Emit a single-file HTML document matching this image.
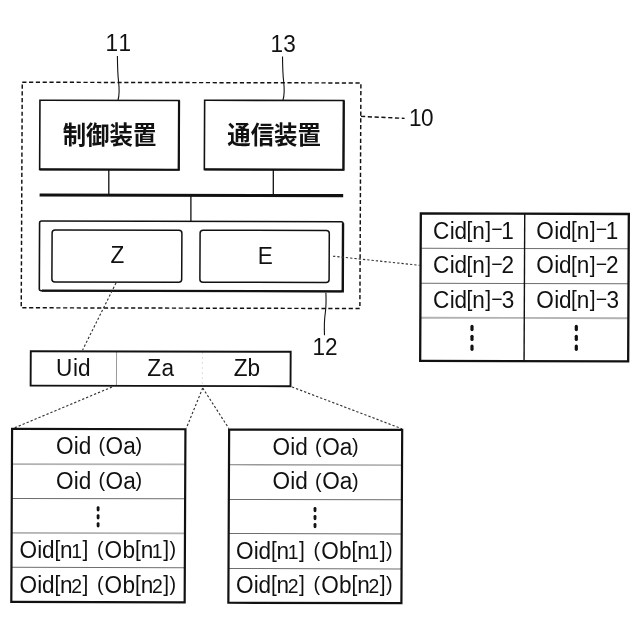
<!DOCTYPE html>
<html lang="ja">
<head>
<meta charset="utf-8">
<title>Figure: device 10 block diagram</title>
<style>
html,body{margin:0;padding:0;background:#fff;}
body{width:640px;height:640px;overflow:hidden;}
svg{display:block;will-change:transform;filter:grayscale(1);}
text{font-family:"Liberation Sans",sans-serif;fill:#111;}
.ln{fill:none;stroke:#111;}
.dash{fill:none;stroke:#111;stroke-width:1.45;stroke-dasharray:4.2 2.6;stroke-linecap:butt;}
.dot{fill:none;stroke:#333;stroke-width:1.15;stroke-dasharray:2.3 2;}
.row{fill:none;stroke:#999;stroke-width:1;}
</style>
</head>
<body>
<svg width="640" height="640" viewBox="0 0 640 640" role="img" aria-label="Block diagram of device 10">
<rect width="640" height="640" fill="#fff"/>
<g transform="matrix(1 0.0022 -0.0045 1 0.879 -0.420)"><rect class="dash" x="21.75" y="82.6" width="338.65" height="225.55"/></g>
<path class="dash" stroke-width="1.25" stroke-dasharray="3.2 1.9" d="M361 116.4 L404.6 118.4"/>
<text font-size="22.6" transform="matrix(1 0 0 1.035 0 -4.417)" x="408.88 421.12" y="126.20 126.20">10</text>
<path class="ln" stroke-width="1.1" d="M117.4 56 C117.5 68 117.7 74 118.6 82 C119.3 88 119.9 93.5 118 100"/>
<text font-size="22.6" transform="matrix(1 0 0 1.035 0 -1.792)" x="105.48 118.38" y="51.20 51.20">11</text>
<path class="ln" stroke-width="1.1" d="M282.5 56.4 C282.6 68 282.8 74 283.7 82 C284.4 88 285 93.5 282.9 100.3"/>
<text font-size="22.6" transform="matrix(1 0 0 1.035 0 -1.823)" x="270.48 283.24" y="52.10 52.10">13</text>
<g transform="matrix(1 0.0022 -0.0045 1 0.607 -0.241)"><rect class="ln" stroke-width="1.6" x="39.8" y="100.4" width="139.1" height="69.2"/><path class="ln" stroke-width="2.2" d="M178.9 100.4 V169.6 H39.8"/></g>
<g transform="matrix(1 0.0022 -0.0045 1 0.607 -0.603)"><rect class="ln" stroke-width="1.6" x="204.5" y="100.4" width="139.1" height="69.2"/><path class="ln" stroke-width="2.2" d="M343.6 100.4 V169.6 H204.5"/></g>
<text font-size="23.4" font-weight="bold" style="font-family:'Liberation Sans','Noto Sans CJK JP',sans-serif" transform="matrix(1 0 0 1.08 0 -11.52)" x="62.7 86.1 109.5 132.9" y="144 144 144 144">制御装置</text>
<text font-size="23.4" font-weight="bold" style="font-family:'Liberation Sans','Noto Sans CJK JP',sans-serif" transform="matrix(1 0 0 1.08 0 -11.504)" x="227.3 250.7 274.1 297.5" y="143.8 143.8 143.8 143.8">通信装置</text>
<path class="ln" stroke-width="1.3" d="M108.8 169.6 V195 M273.3 169.6 V195 M190.9 196 V221"/>
<g transform="matrix(1 0.0022 -0.0045 1 0.879 -0.421)"><path class="ln" stroke-width="3.1" d="M39.6 195.3 H343.2"/></g>
<g transform="matrix(1 0.0022 -0.0045 1 1.153 -0.421)"><rect class="ln" stroke-width="1.6" x="39.45" y="221.4" width="303.5" height="69.7" rx="2"/><path class="ln" stroke-width="2.4" d="M342.9 223 V291.0 H42"/><rect class="ln" stroke-width="1.5" x="52" y="230.2" width="129.8" height="52" rx="3"/><rect class="ln" stroke-width="1.5" x="200" y="230.2" width="129.2" height="52" rx="3"/></g>
<text font-size="22.6" transform="matrix(1 0 0 1.035 0 -9.208)" x="110.58" y="263.10">Z</text>
<text font-size="22.6" transform="matrix(1 0 0 1.035 0 -9.233)" x="257.75" y="263.80">E</text>
<path class="ln" stroke-width="1.1" d="M325.9 292.8 C326.3 302 326.2 306 325.4 312 C324.5 318 324 324 324.5 335.3"/>
<text font-size="22.6" transform="matrix(1 0 0 1.035 0 -12.432)" x="312.38 325.06" y="355.20 355.20">12</text>
<path class="dot" d="M116 283 L82.6 350"/>
<path class="dot" d="M333 256.2 L419.5 265.3"/>
<g transform="matrix(1 0.0022 -0.0045 1 1.293 -1.154)"><path d="M421 248.6 H628" fill="none" stroke="#6e6e6e" stroke-width="1.0"/><path d="M421 283.6 H628" fill="none" stroke="#6e6e6e" stroke-width="1.0"/><path d="M421 318.0 H628" fill="none" stroke="#b2b2b2" stroke-width="1.8"/><path class="ln" stroke-width="1.4" d="M524.4 214 V361"/><rect class="ln" stroke-width="2.3" x="420.5" y="213.75" width="208.0" height="147.35"/></g>
<text font-size="22.6" transform="matrix(1 0 0 1.035 0 -8.354)" x="432.95 449.74 454.50 466.45 472.25 485.29 491.19 501.28" y="238.70 238.70 238.70 236.90 238.70 236.90 236.40 238.70">Cid<tspan font-size="21.0">[</tspan>n<tspan font-size="21.0">]</tspan><tspan font-size="19.5">−</tspan>1</text>
<text font-size="22.6" transform="matrix(1 0 0 1.035 0 -8.354)" x="536.33 554.29 559.05 571.00 576.80 589.84 595.74 605.83" y="238.70 238.70 238.70 236.90 238.70 236.90 236.40 238.70">Oid<tspan font-size="21.0">[</tspan>n<tspan font-size="21.0">]</tspan><tspan font-size="19.5">−</tspan>1</text>
<text font-size="22.6" transform="matrix(1 0 0 1.035 0 -9.572)" x="432.95 449.74 454.50 466.45 472.25 485.29 491.19 501.56" y="273.50 273.50 273.50 271.70 273.50 271.70 271.20 273.50">Cid<tspan font-size="21.0">[</tspan>n<tspan font-size="21.0">]</tspan><tspan font-size="19.5">−</tspan>2</text>
<text font-size="22.6" transform="matrix(1 0 0 1.035 0 -9.572)" x="536.33 554.29 559.05 571.00 576.80 589.84 595.74 606.11" y="273.50 273.50 273.50 271.70 273.50 271.70 271.20 273.50">Oid<tspan font-size="21.0">[</tspan>n<tspan font-size="21.0">]</tspan><tspan font-size="19.5">−</tspan>2</text>
<text font-size="22.6" transform="matrix(1 0 0 1.035 0 -10.787)" x="432.95 449.74 454.50 466.45 472.25 485.29 491.19 501.84" y="308.20 308.20 308.20 306.40 308.20 306.40 305.90 308.20">Cid<tspan font-size="21.0">[</tspan>n<tspan font-size="21.0">]</tspan><tspan font-size="19.5">−</tspan>3</text>
<text font-size="22.6" transform="matrix(1 0 0 1.035 0 -10.787)" x="536.33 554.29 559.05 571.00 576.80 589.84 595.74 606.39" y="308.20 308.20 308.20 306.40 308.20 306.40 305.90 308.20">Oid<tspan font-size="21.0">[</tspan>n<tspan font-size="21.0">]</tspan><tspan font-size="19.5">−</tspan>3</text>
<g fill="#111"><rect x="470.40" y="324.80" width="3.2" height="6.4" rx="1.60"/><rect x="470.40" y="334.65" width="3.2" height="6.4" rx="1.60"/><rect x="470.40" y="344.50" width="3.2" height="6.4" rx="1.60"/><rect x="574.70" y="324.80" width="3.2" height="6.4" rx="1.60"/><rect x="574.70" y="334.65" width="3.2" height="6.4" rx="1.60"/><rect x="574.70" y="344.50" width="3.2" height="6.4" rx="1.60"/></g>
<g transform="matrix(1 0.0022 -0.0045 1 1.659 -0.353)"><path class="row" d="M116.5 352 V385"/><path d="M202.4 352 V385" fill="none" stroke="#ddd" stroke-width="1" stroke-dasharray="2 3"/><rect class="ln" stroke-width="1.9" x="30.7" y="351.5" width="259.9" height="34.4"/></g>
<text font-size="22.6" transform="matrix(1 0 0 1.035 0 -13.153)" x="56.06 72.99 77.95" y="375.80 375.80 375.80">Uid</text>
<text font-size="22.6" transform="matrix(1 0 0 1.035 0 -13.153)" x="147.28 161.44" y="375.80 375.80">Za</text>
<text font-size="22.6" transform="matrix(1 0 0 1.035 0 -13.153)" x="233.68 247.54" y="375.80 375.80">Zb</text>
<path class="dot" d="M112 387 L13 428.5"/>
<path class="dot" d="M202.7 388 L186.4 428 M202.7 388 L228.8 428.4"/>
<path class="dot" d="M292 387 L402 428.8"/>
<g transform="matrix(1 0.0022 -0.0045 1 2.320 -0.216)"><path d="M11.7 464.25 H185.05" fill="none" stroke="#b2b2b2" stroke-width="1.8"/><path d="M11.7 498.6 H185.05" fill="none" stroke="#6e6e6e" stroke-width="1.0"/><path d="M11.7 533.1 H185.05" fill="none" stroke="#b2b2b2" stroke-width="1.8"/><path d="M11.7 567.5 H185.05" fill="none" stroke="#6e6e6e" stroke-width="1.0"/><rect class="ln" stroke-width="2.2" x="11.7" y="429.05" width="173.35" height="173.10"/></g>
<text font-size="22.6" transform="matrix(1 0 0 1.035 0 -15.900)" x="55.93 73.79 78.75 90.00 98.47 105.53 123.24 135.48" y="454.30 454.30 454.30 454.30 452.50 454.30 454.30 452.50">Oid <tspan font-size="19.8">(</tspan>Oa<tspan font-size="19.8">)</tspan></text>
<text font-size="22.6" transform="matrix(1 0 0 1.035 0 -17.108)" x="55.93 73.79 78.75 90.00 98.47 105.53 123.24 135.48" y="488.80 488.80 488.80 488.80 487.00 488.80 488.80 487.00">Oid <tspan font-size="19.8">(</tspan>Oa<tspan font-size="19.8">)</tspan></text>
<g fill="#111"><rect x="96.70" y="506.20" width="2.8" height="5.3" rx="1.40"/><rect x="96.70" y="514.20" width="2.8" height="5.3" rx="1.40"/><rect x="96.70" y="522.20" width="2.8" height="5.3" rx="1.40"/></g>
<text font-size="22.6" transform="matrix(1 0 0 1.035 0 -19.537)" x="19.53 37.19 41.95 54.40 60.10 71.22 82.59 88.60 96.97 104.63 122.54 134.90 140.80 151.82 163.24 169.58" y="558.20 558.20 558.20 556.40 558.20 558.20 556.40 558.20 556.40 558.20 558.20 556.40 558.20 558.20 556.40 556.40">Oid<tspan font-size="21.0">[</tspan>n<tspan font-size="19.4">1</tspan><tspan font-size="21.0">]</tspan> <tspan font-size="19.8">(</tspan>Ob<tspan font-size="21.0">[</tspan>n<tspan font-size="19.4">1</tspan><tspan font-size="21.0">]</tspan><tspan font-size="19.8">)</tspan></text>
<text font-size="22.6" transform="matrix(1 0 0 1.035 0 -20.744)" x="19.53 37.19 41.95 54.40 60.10 71.32 82.59 88.60 96.97 104.63 122.54 134.90 140.80 151.92 163.24 169.58" y="592.70 592.70 592.70 590.90 592.70 592.70 590.90 592.70 590.90 592.70 592.70 590.90 592.70 592.70 590.90 590.90">Oid<tspan font-size="21.0">[</tspan>n<tspan font-size="19.4">2</tspan><tspan font-size="21.0">]</tspan> <tspan font-size="19.8">(</tspan>Ob<tspan font-size="21.0">[</tspan>n<tspan font-size="19.4">2</tspan><tspan font-size="21.0">]</tspan><tspan font-size="19.8">)</tspan></text>
<g transform="matrix(1 0.0022 -0.0045 1 2.324 -0.694)"><path d="M228.75 464.9 H401.8" fill="none" stroke="#999" stroke-width="1.3"/><path d="M228.75 499.6 H401.8" fill="none" stroke="#6e6e6e" stroke-width="1.0"/><path d="M228.75 533.7 H401.8" fill="none" stroke="#6e6e6e" stroke-width="1.0"/><path d="M228.75 568.7 H401.8" fill="none" stroke="#6e6e6e" stroke-width="1.0"/><rect class="ln" stroke-width="2.2" x="228.75" y="429.75" width="173.05" height="173.20"/></g>
<text font-size="22.6" transform="matrix(1 0 0 1.035 0 -15.914)" x="272.53 290.39 295.35 306.60 315.07 322.13 339.84 352.08" y="454.70 454.70 454.70 454.70 452.90 454.70 454.70 452.90">Oid <tspan font-size="19.8">(</tspan>Oa<tspan font-size="19.8">)</tspan></text>
<text font-size="22.6" transform="matrix(1 0 0 1.035 0 -17.132)" x="272.53 290.39 295.35 306.60 315.07 322.13 339.84 352.08" y="489.50 489.50 489.50 489.50 487.70 489.50 489.50 487.70">Oid <tspan font-size="19.8">(</tspan>Oa<tspan font-size="19.8">)</tspan></text>
<g fill="#111"><rect x="313.60" y="506.90" width="2.8" height="5.3" rx="1.40"/><rect x="313.60" y="514.90" width="2.8" height="5.3" rx="1.40"/><rect x="313.60" y="522.90" width="2.8" height="5.3" rx="1.40"/></g>
<text font-size="22.6" transform="matrix(1 0 0 1.035 0 -19.551)" x="236.03 253.69 258.45 270.90 276.60 287.72 299.09 305.10 313.47 321.13 339.04 351.40 357.30 368.32 379.74 386.08" y="558.60 558.60 558.60 556.80 558.60 558.60 556.80 558.60 556.80 558.60 558.60 556.80 558.60 558.60 556.80 556.80">Oid<tspan font-size="21.0">[</tspan>n<tspan font-size="19.4">1</tspan><tspan font-size="21.0">]</tspan> <tspan font-size="19.8">(</tspan>Ob<tspan font-size="21.0">[</tspan>n<tspan font-size="19.4">1</tspan><tspan font-size="21.0">]</tspan><tspan font-size="19.8">)</tspan></text>
<text font-size="22.6" transform="matrix(1 0 0 1.035 0 -20.765)" x="236.03 253.69 258.45 270.90 276.60 287.82 299.09 305.10 313.47 321.13 339.04 351.40 357.30 368.42 379.74 386.08" y="593.30 593.30 593.30 591.50 593.30 593.30 591.50 593.30 591.50 593.30 593.30 591.50 593.30 593.30 591.50 591.50">Oid<tspan font-size="21.0">[</tspan>n<tspan font-size="19.4">2</tspan><tspan font-size="21.0">]</tspan> <tspan font-size="19.8">(</tspan>Ob<tspan font-size="21.0">[</tspan>n<tspan font-size="19.4">2</tspan><tspan font-size="21.0">]</tspan><tspan font-size="19.8">)</tspan></text>
</svg>
</body>
</html>
